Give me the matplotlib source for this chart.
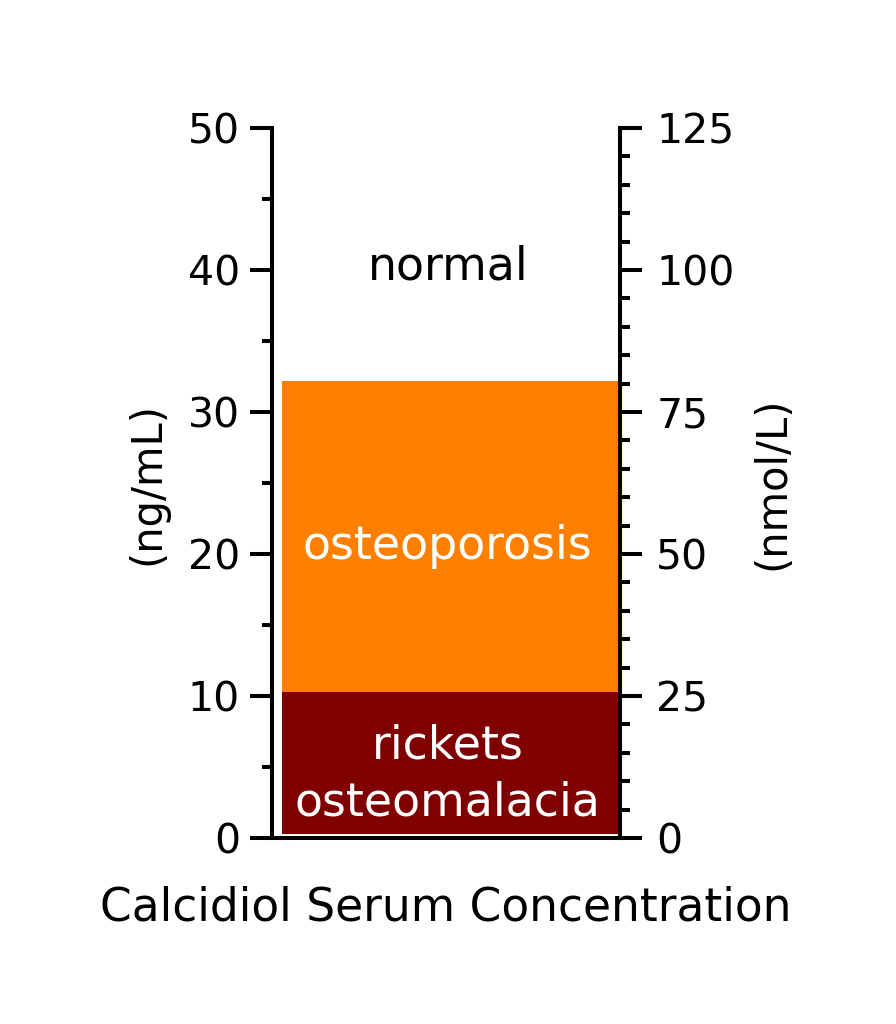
import numpy as np
import matplotlib
matplotlib.use("Agg")
import matplotlib.pyplot as plt
from matplotlib.ticker import MultipleLocator

# ranges in ng/mL
labels = ["rickets\nosteomalacia", "osteoporosis", "normal"]
lower = [0.3, 10.3, 32.2]
upper = [10.3, 32.2, 50]
colors = ["#800000", "#ff8000", "none"]
text_colors = ["white", "white", "black"]
text_y = [4.5, 20.5, 40.2]

fig = plt.figure(figsize=(8.96, 10.24), dpi=100)
ax = fig.add_axes([0.3036, 0.1816, 0.3884, 0.6934])

for lab, lo, hi, c, tc, ty in zip(labels, lower, upper, colors, text_colors, text_y):
    if c != "none":
        ax.bar(0.029, hi - lo, bottom=lo, width=0.965, align="edge", color=c, linewidth=0)
    ax.text(0.505, ty, lab, color=tc, ha="center", va="center", fontsize=33,
            linespacing=1.35)

ax.set_xlim(0, 1)
ax.set_ylim(0, 50)
ax.set_xticks([])
ax.yaxis.set_major_locator(MultipleLocator(10))
ax.yaxis.set_minor_locator(MultipleLocator(5))
ax.tick_params(axis="y", which="major", direction="out", length=16, width=2.9, labelsize=29.5, pad=7)
ax.tick_params(axis="y", which="minor", direction="out", length=7, width=2.9)
ax.set_ylabel("(ng/mL)", fontsize=30, labelpad=14)
ax.set_xlabel("Calcidiol Serum Concentration", fontsize=32.8, labelpad=34)
ax.spines["top"].set_visible(False)
for s in ["left", "right", "bottom"]:
    ax.spines[s].set_linewidth(2.9)

ax2 = ax.twinx()
ax2.set_ylim(0, 125)
ax2.yaxis.set_major_locator(MultipleLocator(25))
ax2.yaxis.set_minor_locator(MultipleLocator(5))
ax2.tick_params(axis="y", which="major", direction="out", length=16, width=2.9, labelsize=29.5, pad=10)
ax2.tick_params(axis="y", which="minor", direction="out", length=7, width=2.9)
ax2.set_ylabel("(nmol/L)", fontsize=30, labelpad=12)
for s in ["top", "left", "bottom"]:
    ax2.spines[s].set_visible(False)
ax2.spines["right"].set_linewidth(2.9)

fig.savefig("out.png", dpi=100, facecolor="white")
